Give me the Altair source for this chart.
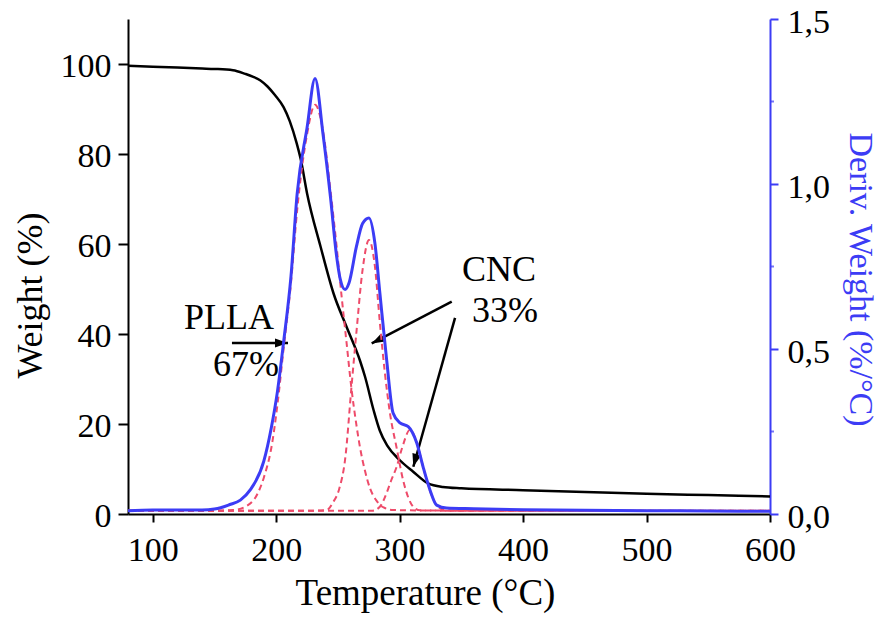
import math
import altair as alt
import pandas as pd

# ---------------- data ----------------
TGA_T = [80, 100, 120, 140, 150, 165, 175, 181, 187, 193, 199, 206, 211, 216.6, 220, 225, 236,
         246.5, 257, 268, 272, 279, 284, 290, 300, 311, 323, 335, 350, 400, 450, 500, 550, 600]
TGA_W = [99.6, 99.4, 99.2, 99.0, 98.9, 98.6, 97.8, 97.2, 96.4, 95.0, 93.1, 90.4, 87.3, 82.4,
         78.7, 71.3, 59.4, 49.0, 41.6, 34.0, 30.5, 23.0, 18.5, 15.2, 12.0, 9.4, 6.8, 6.0, 5.7,
         5.3, 4.9, 4.5, 4.2, 3.9]

DTG_T = [80, 100, 120, 140, 150, 155, 162, 171, 179, 190, 196, 201, 206, 212, 217, 225, 231.5,
         238, 244, 249, 252, 255.8, 259, 265, 270, 275.2, 280, 284, 289.5, 294.7, 300.3, 307,
         313.9, 319, 324.6, 330, 338, 360, 400, 450, 500, 550, 600]
DTG_D = [0.010, 0.012, 0.012, 0.012, 0.015, 0.019, 0.028, 0.042, 0.073, 0.16, 0.26, 0.37, 0.52,
         0.72, 0.97, 1.17, 1.32, 1.15, 0.96, 0.78, 0.71, 0.68, 0.70, 0.81, 0.88, 0.897, 0.82,
         0.67, 0.467, 0.306, 0.276, 0.265, 0.215, 0.143, 0.073, 0.027, 0.018, 0.016, 0.013,
         0.011, 0.010, 0.009, 0.008]

P1_T = [80, 150, 165, 175, 185, 190, 197, 201, 206, 212, 217, 225, 231.5, 238, 244, 249, 253,
        257, 261, 265, 268, 272, 276, 281, 287, 295, 350, 450, 600]
P1_D = [0.010, 0.010, 0.012, 0.022, 0.062, 0.11, 0.22, 0.33, 0.50, 0.70, 0.92, 1.15, 1.24, 1.16,
        0.98, 0.81, 0.66, 0.52, 0.38, 0.27, 0.20, 0.13, 0.078, 0.042, 0.020, 0.012, 0.010,
        0.010, 0.010]

P2_T = [80, 230, 241, 246, 251, 256, 261, 265, 270, 275.2, 280, 284, 288, 292, 297.6, 303, 311,
        316.5, 350, 450, 600]
P2_D = [0.010, 0.010, 0.012, 0.035, 0.075, 0.17, 0.385, 0.55, 0.74, 0.83, 0.75, 0.58, 0.43, 0.31,
        0.20, 0.10, 0.022, 0.011, 0.010, 0.010, 0.010]

P3_T = [80, 278, 284, 289.5, 293, 297.6, 302, 308.4, 314, 319, 324.6, 330, 336, 350, 450, 600]
P3_D = [0.010, 0.010, 0.022, 0.064, 0.10, 0.143, 0.20, 0.255, 0.215, 0.143, 0.070, 0.027, 0.013,
        0.010, 0.010, 0.010]

MINOR_TICKS = [0.25, 0.75, 1.25]

LABEL_TEXT = ["PLLA", "67%", "CNC", "33%"]
LABEL_T = [161.8, 175.6, 380.5, 385.4]
LABEL_W = [43.6, 33.1, 54.2, 45.1]

ARROW_T1 = [164.2, 342.2, 344.9]
ARROW_W1 = [38.0, 47.2, 43.6]
ARROW_T2 = [209.6, 277.4, 311.1]
ARROW_W2 = [38.0, 37.9, 10.5]

X_TICKS = [100, 200, 300, 400, 500, 600]
W_TICKS = [0, 20, 40, 60, 80, 100]
D_TICKS = [0.0, 0.5, 1.0, 1.5]

# ---------------- styles ----------------
BLACK = "#000000"
BLUE = "#3c3cf5"
RED = "#ee4b6a"
FONT = "Liberation Serif"
PLOT_W, PLOT_H = 642, 495
X_DOM, W_DOM, D_DOM = [80, 600], [0, 110], [0, 1.5]

xs = alt.Scale(domain=X_DOM, nice=False, zero=False)
ws = alt.Scale(domain=W_DOM, nice=False, zero=False)
ds = alt.Scale(domain=D_DOM, nice=False, zero=False)

tga = pd.DataFrame({"t": TGA_T, "w": TGA_W})
dtg = pd.DataFrame({"t": DTG_T, "d": DTG_D})
p1 = pd.DataFrame({"t": P1_T, "d": P1_D})
p2 = pd.DataFrame({"t": P2_T, "d": P2_D})
p3 = pd.DataFrame({"t": P3_T, "d": P3_D})
minor = pd.DataFrame({"t": [X_DOM[1]] * len(MINOR_TICKS), "d": MINOR_TICKS})
labels = pd.DataFrame({"txt": LABEL_TEXT, "t": LABEL_T, "w": LABEL_W})

px_per_t = PLOT_W / (X_DOM[1] - X_DOM[0])
px_per_w = PLOT_H / (W_DOM[1] - W_DOM[0])
angles = []
for a, b, c, d in zip(ARROW_T1, ARROW_W1, ARROW_T2, ARROW_W2):
    ang = math.degrees(math.atan2(-(d - b) * px_per_w, (c - a) * px_per_t)) % 360
    angles.append(ang)
arrows = pd.DataFrame({"t": ARROW_T1, "w": ARROW_W1, "t2": ARROW_T2, "w2": ARROW_W2, "ang": angles})

common = dict(labelFont=FONT, titleFont=FONT, labelColor=BLACK, labelFlush=False,
              labelOverlap=False, titleFontWeight="normal", grid=False, tickWidth=2,
              domainWidth=2)

x_axis = alt.Axis(values=X_TICKS, format="d", title="Temperature (°C)", orient="bottom",
                  tickSize=8, domainColor=BLACK, tickColor=BLACK,
                  labelFontSize=34, labelPadding=11, titleFontSize=37,
                  titleColor=BLACK, titleX=297, titleY=90, titleBaseline="alphabetic",
                  titleAlign="center", **common)
w_axis = alt.Axis(values=W_TICKS, format="d", title="Weight (%)", orient="left",
                  tickSize=10, domainColor=BLACK, tickColor=BLACK,
                  labelFontSize=34, labelPadding=7, labelOffset=2, titleFontSize=36,
                  titleColor=BLACK, titleX=-87, titleY=276, titleAngle=270,
                  titleBaseline="alphabetic", titleAlign="center", **common)
d_axis = alt.Axis(values=D_TICKS, title="Deriv. Weight (%/°C)", orient="right",
                  labelExpr="replace(format(datum.value, '.1f'), '.', ',')",
                  tickSize=8, domainColor=BLUE, tickColor=BLUE,
                  labelFontSize=34, labelPadding=9, labelOffset=3, titleFontSize=34,
                  titleColor=BLUE, titleX=79, titleY=260, titleAngle=90,
                  titleBaseline="alphabetic", titleAlign="center", **common)

XE = alt.X("t:Q", scale=xs, axis=x_axis)
YW = alt.Y("w:Q", scale=ws, axis=w_axis)
YD = alt.Y("d:Q", scale=ds, axis=d_axis)

tga_line = alt.Chart(tga).mark_line(color=BLACK, strokeWidth=2.5, interpolate="monotone").encode(
    x=XE, y=YW)

text_layer = alt.Chart(labels).mark_text(font=FONT, fontSize=36, color=BLACK, align="center",
                                         baseline="middle").encode(x=XE, y=YW, text="txt:N")

arrow_lines = alt.Chart(arrows).mark_rule(color=BLACK, strokeWidth=2.5).encode(
    x=XE, x2="t2:Q", y=YW, y2="w2:Q")

arrow_heads = alt.Chart(arrows).transform_calculate(tt="datum.t2", ww="datum.w2").mark_point(
    shape="M-2,-0.7L0,0L-2,0.7Z", filled=True, fill=BLACK, size=169, opacity=1).encode(
    x=alt.X("tt:Q", scale=xs, axis=x_axis), y=alt.Y("ww:Q", scale=ws, axis=w_axis),
    angle=alt.Angle("ang:Q", scale=None))

left_group = alt.layer(tga_line, arrow_lines, arrow_heads, text_layer)

blue_line = alt.Chart(dtg).mark_line(color=BLUE, strokeWidth=3, interpolate="monotone").encode(
    x=XE, y=YD)

def red_curve(df):
    return alt.Chart(df).mark_line(color=RED, strokeWidth=2, strokeDash=[6, 4],
                                   interpolate="monotone").encode(x=XE, y=YD)

minor_ticks = alt.Chart(minor).mark_tick(color=BLUE, thickness=2, size=4, xOffset=2,
                                         orient="horizontal").encode(x=XE, y=YD)

right_group = alt.layer(red_curve(p1), red_curve(p2), red_curve(p3), blue_line, minor_ticks)

chart = alt.layer(left_group, right_group).resolve_scale(y="independent").properties(
    width=PLOT_W, height=PLOT_H,
    autosize=alt.AutoSizeParams(type="none"),
    padding={"left": 120, "top": 11, "right": 110, "bottom": 101},
    background="white",
).configure(
    font=FONT
).configure_axis(
    labelFont=FONT, titleFont=FONT, grid=False
).configure_view(stroke=None)

chart.save("out.html", embed_options={"renderer": "svg", "actions": False})
